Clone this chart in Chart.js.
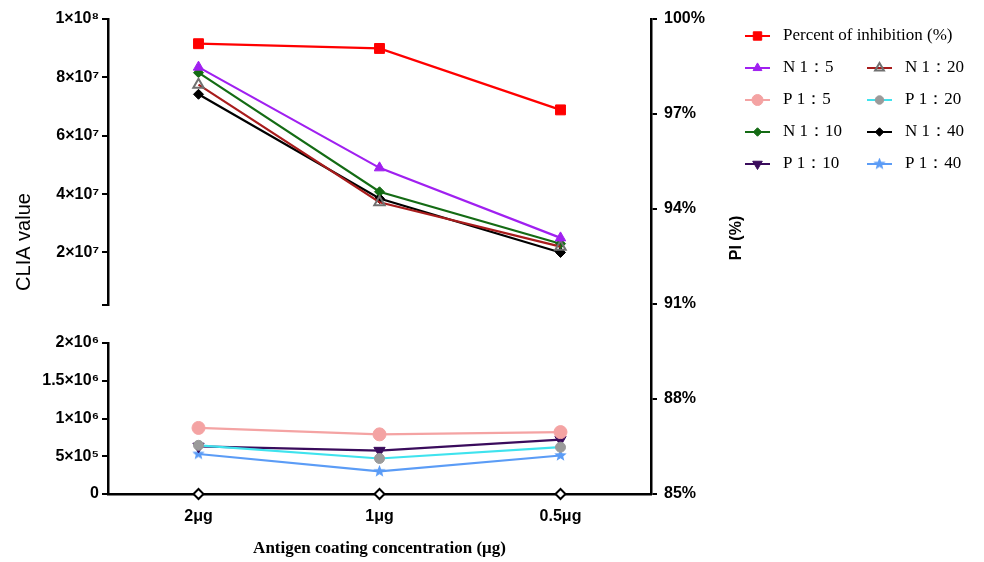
<!DOCTYPE html>
<html>
<head>
<meta charset="utf-8">
<script src="https://cdn.jsdelivr.net/npm/chart.js@4.4.1/dist/chart.umd.min.js"></script>
<style>
  html, body { margin: 0; padding: 0; background: #fff; }
  #wrap { width: 984px; height: 562px; position: relative; }
</style>
</head>
<body>
<div id="wrap"><canvas id="chart"></canvas></div>
<script>
// 数据
const categories = ['2μg', '1μg', '0.5μg'];
const percentInhibition = [99.22, 99.07, 97.13];
const n1_5 = [83.5e6, 49.0e6, 25.0e6];
const n1_20 = [77.5e6, 37.2e6, 22.0e6];
const n1_10 = [81.6e6, 40.8e6, 23.0e6];
const n1_40 = [74.2e6, 38.5e6, 20.0e6];
const p1_5 = [0.875e6, 0.79e6, 0.82e6];
const p1_20 = [0.645e6, 0.47e6, 0.62e6];
const p1_10 = [0.63e6, 0.575e6, 0.72e6];
const p1_40 = [0.53e6, 0.30e6, 0.51e6];
const axisMarks = [0, 0, 0];

// 刻度
const topTicks = [2e6, 2e7, 4e7, 6e7, 8e7, 1e8];
const topTickLabels = ['', '2×10⁷', '4×10⁷', '6×10⁷', '8×10⁷', '1×10⁸'];
const bottomTicks = [0, 5e5, 1e6, 1.5e6, 2e6];
const bottomTickLabels = ['0', '5×10⁵', '1×10⁶', '1.5×10⁶', '2×10⁶'];
const piTicks = [85, 88, 91, 94, 97, 100];
const piTickLabels = ['85%', '88%', '91%', '94%', '97%', '100%'];

// 五角星点样式
function makeStar(color, size) {
    const c = document.createElement('canvas');
    c.width = c.height = size;
    const g = c.getContext('2d');
    g.fillStyle = color;
    g.beginPath();
    for (let k = 0; k < 10; k++) {
        const r = k % 2 ? size * 0.22 : size * 0.5;
        const a = -Math.PI / 2 + k * Math.PI / 5;
        g.lineTo(size / 2 + r * Math.cos(a), size / 2 + r * Math.sin(a));
    }
    g.closePath();
    g.fill();
    return c;
}

function series(label, data, axis, color, style, extra) {
    return Object.assign({
        label: label,
        data: data,
        yAxisID: axis,
        borderColor: color,
        borderWidth: 2.2,
        pointStyle: style,
        pointRadius: 6,
        pointBackgroundColor: color,
        pointBorderColor: color,
        pointBorderWidth: 1,
        tension: 0,
        clip: false
    }, extra || {});
}

const datasets = [
    series('Percent of inhibition (%)', percentInhibition, 'yPI', '#ff0000', 'rect', { pointRadius: 7 }),
    series('N 1：5', n1_5, 'yTop', '#a020f0', 'triangle'),
    series('N 1：20', n1_20, 'yTop', '#a81c1c', 'triangle', { pointBackgroundColor: 'rgba(255,255,255,0)', pointBorderColor: '#707070', pointBorderWidth: 2, pointRadius: 6 }),
    series('P 1：5', p1_5, 'yBot', '#f4a3a3', 'circle', { pointRadius: 6.5 }),
    series('P 1：20', p1_20, 'yBot', '#3fe3ee', 'circle', { pointBackgroundColor: '#9a9a9a', pointBorderColor: '#9a9a9a', pointRadius: 5 }),
    series('N 1：10', n1_10, 'yTop', '#146b14', 'rectRot', { pointRadius: 5 }),
    series('N 1：40', n1_40, 'yTop', '#000000', 'rectRot', { pointRadius: 5 }),
    series('P 1：10', p1_10, 'yBot', '#3a0c5c', 'triangle', { pointRotation: 180, pointRadius: 6.5 }),
    series('P 1：40', p1_40, 'yBot', '#5b9cf6', makeStar('#5b9cf6', 13), { pointRadius: 6 }),
    {
        label: '',
        data: axisMarks,
        yAxisID: 'yBot',
        showLine: false,
        pointStyle: 'rectRot',
        pointRadius: 5,
        pointBackgroundColor: '#ffffff',
        pointBorderColor: '#000000',
        pointBorderWidth: 2,
        clip: false
    }
];

const axisBorder = { color: '#000', width: 2.5 };
const axisGrid = { drawOnChartArea: false, drawTicks: true, tickLength: 6, color: '#000', lineWidth: 2 };
const tickFont = { family: '"Liberation Sans", Arial, sans-serif', size: 16, weight: 'bold' };

function fixedTicks(values, labels, pad) {
    return {
        afterBuildTicks: s => { s.ticks = values.map(v => ({ value: v })); },
        ticks: { autoSkip: false, color: '#000', font: tickFont, padding: pad, callback: (v, i) => labels[i] }
    };
}

// 侧边图例 + 旋转的轴标题
const sidePlugin = {
    id: 'sideLegend',
    afterDraw(chart) {
        const ctx = chart.ctx;
        ctx.save();
        ctx.textBaseline = 'middle';
        const items = chart.data.datasets.filter(d => d.label);
        items.forEach((ds, i) => {
            let row = 0, col = 0;
            if (i > 0) { row = Math.floor((i - 1) / 2) + 1; col = (i - 1) % 2; }
            const x = col === 0 ? 745 : 867;
            const y = 36 + row * 32;
            ctx.strokeStyle = ds.borderColor;
            ctx.lineWidth = 2;
            ctx.beginPath();
            ctx.moveTo(x, y);
            ctx.lineTo(x + 25, y);
            ctx.stroke();
            ctx.fillStyle = ds.pointBackgroundColor;
            ctx.strokeStyle = ds.pointBorderColor;
            ctx.lineWidth = ds.pointBorderWidth;
            Chart.helpers.drawPoint(ctx, {
                pointStyle: ds.pointStyle,
                rotation: ds.pointRotation || 0,
                radius: ds.pointRadius * 0.85,
                borderWidth: ds.pointBorderWidth
            }, x + 12.5, y);
            ctx.fillStyle = '#000';
            ctx.font = '17px "Liberation Serif", "Times New Roman", serif';
            ctx.textAlign = 'left';
            ctx.fillText(ds.label, x + 38, y);
        });
        ctx.textAlign = 'center';
        ctx.fillStyle = '#000';
        ctx.font = '20px "Liberation Sans", Arial, sans-serif';
        ctx.translate(24, 242);
        ctx.rotate(-Math.PI / 2);
        ctx.fillText('CLIA value', 0, 0);
        ctx.setTransform(1, 0, 0, 1, 0, 0);
        ctx.font = 'bold 16px "Liberation Sans", Arial, sans-serif';
        ctx.translate(737, 238);
        ctx.rotate(-Math.PI / 2);
        ctx.fillText('PI (%)', 0, 0);
        ctx.restore();
    }
};

const ctx = document.getElementById('chart').getContext('2d');
const chart = new Chart(ctx, {
    type: 'line',
    data: { labels: categories, datasets: datasets },
    plugins: [sidePlugin],
    options: {
        responsive: true,
        maintainAspectRatio: false,
        animation: false,
        layout: { padding: { left: 8, right: 233, top: 19, bottom: 0 } },
        plugins: { legend: { display: false }, tooltip: { enabled: false } },
        scales: {
            x: {
                type: 'category',
                offset: true,
                grid: { display: false, drawTicks: false },
                border: axisBorder,
                ticks: { color: '#000', font: tickFont, padding: 13, maxRotation: 0 },
                title: {
                    display: true,
                    text: 'Antigen coating concentration (μg)',
                    color: '#000',
                    font: { family: '"Liberation Serif", "Times New Roman", serif', size: 17, weight: 'bold' },
                    padding: { top: 0, bottom: 3 }
                },
                afterFit: s => { s.height = 68; }
            },
            yTop: Object.assign({
                type: 'linear',
                position: 'left',
                stack: 'clia',
                stackWeight: 286,
                weight: 3,
                min: 2e6,
                max: 1e8,
                border: axisBorder,
                grid: axisGrid,
                afterFit: s => { s.width = 100; }
            }, fixedTicks(topTicks, topTickLabels, 3)),
            yGap: {
                type: 'linear',
                position: 'left',
                stack: 'clia',
                stackWeight: 38,
                weight: 2,
                display: false
            },
            yBot: Object.assign({
                type: 'linear',
                position: 'left',
                stack: 'clia',
                stackWeight: 151,
                weight: 1,
                min: 0,
                max: 2e6,
                border: axisBorder,
                grid: axisGrid,
                afterFit: s => { s.width = 100; }
            }, fixedTicks(bottomTicks, bottomTickLabels, 3)),
            yPI: Object.assign({
                type: 'linear',
                position: 'right',
                min: 85,
                max: 100,
                border: axisBorder,
                grid: axisGrid,
                afterFit: s => { s.width = 100; }
            }, fixedTicks(piTicks, piTickLabels, 7))
        }
    }
});
</script>
</body>
</html>
